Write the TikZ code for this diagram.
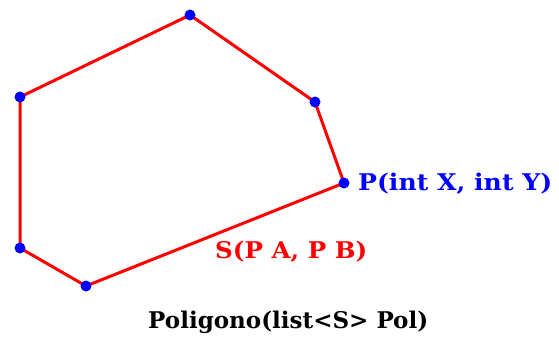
\documentclass[tikz,border=0pt]{standalone}
\usepackage{fontspec}
\usepackage{graphicx}
\setmainfont{DejaVu Serif}
\begin{document}
\begin{tikzpicture}[x=1pt,y=-1pt,
  edge/.style={draw=red,line width=3pt},
  vtx/.style={circle,fill=blue,inner sep=0pt,minimum size=11pt},
  lbl/.style={font=\bfseries\fontsize{23}{25}\selectfont,inner sep=0pt}]
\useasboundingbox (0,0) rectangle (559,338);
\coordinate (A) at (190,15);
\coordinate (B) at (315,102);
\coordinate (C) at (344,183);
\coordinate (D) at (86,286);
\coordinate (E) at (20,248);
\coordinate (F) at (20,97);
\draw[edge] (A) -- (B) -- (C) -- (D) -- (E) -- (F) -- cycle;
\foreach \p in {A,B,C,D,E,F} \node[vtx] (v\p) at (\p) {};
\node[lbl,text=blue,anchor=west] (pl) at (358,184) {\resizebox{194pt}{\height}{P(int X, int Y)}};
\node[lbl,text=red,anchor=west] (sl) at (215,252) {\resizebox{152pt}{\height}{S(P A, P B)}};
\node[lbl,anchor=west] (pol) at (148,322) {\resizebox{280pt}{\height}{Poligono(list<S> Pol)}};
\end{tikzpicture}
\end{document}
